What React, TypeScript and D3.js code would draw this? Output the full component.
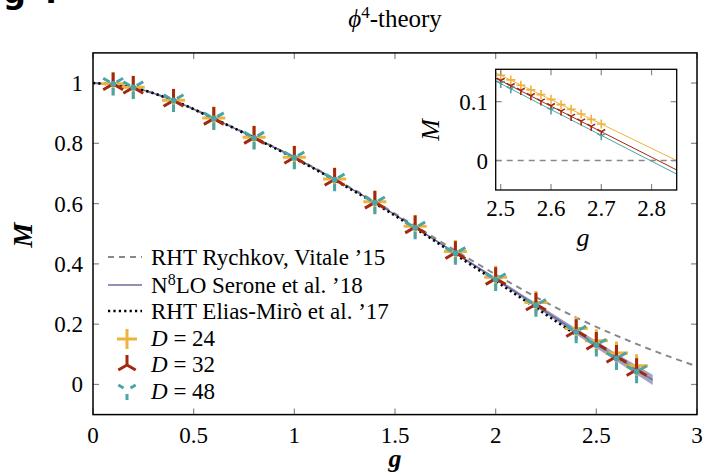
import React from "react";
import * as d3 from "d3";

// ---------- data ----------
const gPts = [0.1, 0.2, 0.4, 0.6, 0.8, 1.0, 1.2, 1.4, 1.6, 1.8, 2.0, 2.2, 2.4, 2.5, 2.6, 2.7];
const mD24 = [0.998, 0.986, 0.943, 0.884, 0.820, 0.754, 0.682, 0.606, 0.525, 0.441, 0.356, 0.272, 0.186, 0.145, 0.104, 0.062];
const mD32 = [0.997, 0.985, 0.942, 0.882, 0.819, 0.753, 0.680, 0.604, 0.522, 0.437, 0.351, 0.266, 0.178, 0.136, 0.093, 0.049];
const mD48 = [0.997, 0.985, 0.942, 0.882, 0.818, 0.752, 0.679, 0.603, 0.520, 0.435, 0.348, 0.263, 0.175, 0.131, 0.086, 0.042];

const gRychkov = [0, 0.2, 0.4, 0.6, 0.8, 1.0, 1.2, 1.4, 1.6, 1.8, 2.0, 2.2, 2.4, 2.6, 2.8, 3.0];
const mRychkov = [1, 0.985, 0.942, 0.883, 0.820, 0.754, 0.682, 0.607, 0.526, 0.444, 0.365, 0.290, 0.222, 0.162, 0.108, 0.060];

const gSerone = [0, 0.2, 0.4, 0.6, 0.8, 1.0, 1.2, 1.4, 1.6, 1.8, 2.0, 2.2, 2.4, 2.6, 2.78];
const mSerone = [1, 0.985, 0.942, 0.882, 0.819, 0.753, 0.680, 0.604, 0.521, 0.436, 0.350, 0.263, 0.176, 0.090, 0.015];
const eSerone = [0, 0, 0, 0, 0, 0, 0.001, 0.001, 0.002, 0.003, 0.005, 0.007, 0.010, 0.013, 0.017];

const gElias = [0, 0.2, 0.4, 0.6, 0.8, 1.0, 1.2, 1.4, 1.6, 1.8, 2.0, 2.2, 2.4];
const mElias = [1, 0.985, 0.942, 0.882, 0.818, 0.751, 0.678, 0.601, 0.518, 0.431, 0.343, 0.254, 0.165];

// inset
const gIn = [2.5, 2.52, 2.54, 2.56, 2.58, 2.6, 2.62, 2.64, 2.66, 2.68, 2.7];
const iD24 = [0.145, 0.137, 0.128, 0.120, 0.112, 0.104, 0.095, 0.087, 0.079, 0.070, 0.062];
const iD32 = [0.136, 0.127, 0.119, 0.110, 0.101, 0.093, 0.084, 0.075, 0.067, 0.058, 0.049];
const gIn48 = [2.5, 2.52, 2.6, 2.7];
const iD48 = [0.131, 0.122, 0.086, 0.042];
const gFit = [2.49, 2.85];
const fit24 = [0.149, 0.0];
const fit32 = [0.140, -0.016];
const fit48 = [0.135, -0.023];

const xTicks = [0, 0.5, 1, 1.5, 2, 2.5, 3];
const xTickLabels = ["0", "0.5", "1", "1.5", "2", "2.5", "3"];
const yTicks = [0, 0.2, 0.4, 0.6, 0.8, 1];
const yTickLabels = ["0", "0.2", "0.4", "0.6", "0.8", "1"];
const ixTicks = [2.5, 2.6, 2.7, 2.8];
const ixTickLabels = ["2.5", "2.6", "2.7", "2.8"];
const iyTicks = [0, 0.1];
const iyTickLabels = ["0", "0.1"];

// ---------- styles ----------
const ORANGE = "#efb33d";
const RED = "#a3280f";
const TEAL = "#4aa4a8";
const BAND = "#a3a3c2";
const SERLINE = "#6e6e9e";
const GRAY = "#888888";
const FONT = "Liberation Serif, DejaVu Serif, Times New Roman, serif";
const FS = 23;

function plusPath(x: number, y: number, r: number) {
  return `M${x - r},${y}L${x + r},${y}M${x},${y - r}L${x},${y + r}`;
}
function triPath(x: number, y: number, r: number, up: boolean, r0 = 0) {
  const c = Math.cos(Math.PI / 6), s = Math.sin(Math.PI / 6);
  const dirs = up
    ? [[0, -1], [-c, s], [c, s]]
    : [[0, 1], [-c, -s], [c, -s]];
  return dirs.map(([dx, dy]) => `M${x + dx * r0},${y + dy * r0}L${x + dx * r},${y + dy * r}`).join("");
}

export default function App() {
  const W = 706, H = 474;
  const x = d3.scaleLinear().domain([0, 3]).range([93, 697]);
  const y = d3.scaleLinear().domain([-0.1, 1.1]).range([414.6, 52.9]);

  const ix = d3.scaleLinear().domain([2.49, 2.85]).range([495.7, 676.7]);
  const iy = d3.scaleLinear().domain([-0.05, 0.155]).range([190, 69.3]);

  const lineOf = (xs: number[], ys: number[], sx: any, sy: any, curve = d3.curveMonotoneX) =>
    d3.line<number>().x((_, i) => sx(xs[i])).y((v) => sy(v)).curve(curve)(ys) as string;

  const band = d3
    .area<number>()
    .x((_, i) => x(gSerone[i]))
    .y0((v, i) => y(v - eSerone[i]))
    .y1((v, i) => y(v + eSerone[i]))
    .curve(d3.curveMonotoneX)(mSerone) as string;

  const R = 11.5;
  const legendX = 108, legendX2 = 142, legendText = 151;
  const legendBase = [265, 293, 319, 346, 372, 399];
  const tf = { fontFamily: FONT };

  return (
    <svg width={W} height={H} style={{ position: "absolute", left: 0, top: 0, background: "#fff" }}>
      <rect x={0} y={0} width={W} height={H} fill="#fff" />
      {/* cropped fragment at top-left */}
      <text x={3} y={3} style={{ fontFamily: "DejaVu Sans, sans-serif" }} fontWeight="bold" fontSize={32}>g</text>
      <text x={45} y={3} style={{ fontFamily: "DejaVu Sans, sans-serif" }} fontWeight="bold" fontSize={32}>.</text>

      <g style={tf}>
        {/* title */}
        <text x={395} y={27} textAnchor="middle" fontSize={25}>
          <tspan fontStyle="italic">ϕ</tspan>
          <tspan dy={-9} fontSize={17}>4</tspan>
          <tspan dy={9}>-theory</tspan>
        </text>

        {/* main ticks */}
        {xTicks.map((t, i) => (
          <g key={"xt" + i}>
            <line x1={x(t)} x2={x(t)} y1={414.6} y2={408.6} stroke={GRAY} strokeWidth={1.2} />
            <line x1={x(t)} x2={x(t)} y1={52.9} y2={58.9} stroke={GRAY} strokeWidth={1.2} />
            <text x={x(t)} y={443} textAnchor="middle" fontSize={FS}>{xTickLabels[i]}</text>
          </g>
        ))}
        {yTicks.map((t, i) => (
          <g key={"yt" + i}>
            <line x1={93} x2={99} y1={y(t)} y2={y(t)} stroke={GRAY} strokeWidth={1.2} />
            <line x1={697} x2={691} y1={y(t)} y2={y(t)} stroke={GRAY} strokeWidth={1.2} />
            <text x={83} y={y(t) + 8} textAnchor="end" fontSize={FS}>{yTickLabels[i]}</text>
          </g>
        ))}

        {/* axis labels */}
        <text x={395} y={467} textAnchor="middle" fontSize={26} fontStyle="italic" fontWeight="bold">g</text>
        <text transform="translate(32,235) rotate(-90)" textAnchor="middle" fontSize={28} fontStyle="italic" fontWeight="bold">M</text>

        {/* curves */}
        <path d={band} fill={BAND} stroke="none" />
        <path d={lineOf(gRychkov, mRychkov, x, y)} fill="none" stroke={GRAY} strokeWidth={2} strokeDasharray="6,5" />
        <path d={lineOf(gSerone, mSerone, x, y)} fill="none" stroke={SERLINE} strokeWidth={1.5} />
        <path d={lineOf(gElias, mElias, x, y)} fill="none" stroke="#000" strokeWidth={2.6} strokeDasharray="2.2,3.2" />

        {/* markers */}
        {gPts.map((g, i) => (
          <path key={"o" + i} d={plusPath(x(g), y(mD24[i]), R)} stroke={ORANGE} strokeWidth={3} fill="none" />
        ))}
        {gPts.map((g, i) => (
          <path key={"r" + i} d={triPath(x(g), y(mD32[i]), R, true)} stroke={RED} strokeWidth={3} fill="none" />
        ))}
        {gPts.map((g, i) => (
          <g key={"t" + i}>
            <path d={triPath(x(g), y(mD48[i]), R, false, 4)} stroke={TEAL} strokeWidth={3} fill="none" />
            <circle cx={x(g)} cy={y(mD48[i])} r={3} fill={TEAL} />
          </g>
        ))}

        {/* main frame */}
        <rect x={93} y={52.9} width={604} height={361.7} fill="none" stroke="#000" strokeWidth={1.5} />

        {/* legend */}
        <g fontSize={FS}>
          <line x1={legendX} x2={legendX2} y1={legendBase[0] - 8} y2={legendBase[0] - 8} stroke={GRAY} strokeWidth={2} strokeDasharray="6,5" />
          <text x={legendText} y={legendBase[0]}>RHT Rychkov, Vitale ’15</text>
          <line x1={legendX} x2={legendX2} y1={legendBase[1] - 8} y2={legendBase[1] - 8} stroke={SERLINE} strokeWidth={1.5} />
          <text x={legendText} y={legendBase[1]}>N<tspan dy={-8} fontSize={16}>8</tspan><tspan dy={8}>LO Serone et al. ’18</tspan></text>
          <line x1={legendX} x2={legendX2} y1={legendBase[2] - 8} y2={legendBase[2] - 8} stroke="#000" strokeWidth={2.6} strokeDasharray="2.2,3.2" />
          <text x={legendText} y={legendBase[2]}>RHT Elias-Mirò et al. ’17</text>

          <path d={plusPath(127, legendBase[3] - 7, 10)} stroke={ORANGE} strokeWidth={3} fill="none" />
          <text x={legendText} y={legendBase[3]}><tspan fontStyle="italic">D</tspan> = 24</text>
          <path d={triPath(127, legendBase[4] - 7, 10, true)} stroke={RED} strokeWidth={3} fill="none" />
          <text x={legendText} y={legendBase[4]}><tspan fontStyle="italic">D</tspan> = 32</text>
          <path d={triPath(127, legendBase[5] - 9, 10, false, 4)} stroke={TEAL} strokeWidth={3} fill="none" />
          <text x={legendText} y={legendBase[5]}><tspan fontStyle="italic">D</tspan> = 48</text>
        </g>

        {/* inset */}
        <rect x={495.7} y={69.3} width={181} height={120.7} fill="#fff" />
        <line x1={ix(2.49)} x2={ix(2.85)} y1={iy(0)} y2={iy(0)} stroke={GRAY} strokeWidth={1.6} strokeDasharray="6,5" />
        <path d={lineOf(gFit, fit24, ix, iy, d3.curveLinear)} stroke={ORANGE} strokeWidth={1} fill="none" />
        <path d={lineOf(gFit, fit32, ix, iy, d3.curveLinear)} stroke={RED} strokeWidth={1} fill="none" />
        <path d={lineOf(gFit, fit48, ix, iy, d3.curveLinear)} stroke={TEAL} strokeWidth={1} fill="none" />
        {gIn.map((g, i) => (
          <path key={"io" + i} d={plusPath(ix(g), iy(iD24[i]), 4.5)} stroke={ORANGE} strokeWidth={1.6} fill="none" />
        ))}
        {gIn.map((g, i) => (
          <path key={"ir" + i} d={triPath(ix(g), iy(iD32[i]), 4.5, false)} stroke={RED} strokeWidth={1.6} fill="none" />
        ))}
        {gIn48.map((g, i) => (
          <path key={"it" + i} d={triPath(ix(g), iy(iD48[i]), 4.5, false)} stroke={TEAL} strokeWidth={1.6} fill="none" />
        ))}
        {ixTicks.map((t, i) => (
          <g key={"ixt" + i}>
            <line x1={ix(t)} x2={ix(t)} y1={190} y2={184} stroke={GRAY} strokeWidth={1.2} />
            <line x1={ix(t)} x2={ix(t)} y1={69.3} y2={75.3} stroke={GRAY} strokeWidth={1.2} />
            <text x={ix(t)} y={216} textAnchor="middle" fontSize={FS}>{ixTickLabels[i]}</text>
          </g>
        ))}
        {iyTicks.map((t, i) => (
          <g key={"iyt" + i}>
            <line x1={495.7} x2={501.7} y1={iy(t)} y2={iy(t)} stroke={GRAY} strokeWidth={1.2} />
            <line x1={676.7} x2={670.7} y1={iy(t)} y2={iy(t)} stroke={GRAY} strokeWidth={1.2} />
            <text x={488} y={iy(t) + 8} textAnchor="end" fontSize={FS}>{iyTickLabels[i]}</text>
          </g>
        ))}
        <rect x={495.7} y={69.3} width={181} height={120.7} fill="none" stroke="#000" strokeWidth={1.3} />
        <text x={583} y={246} textAnchor="middle" fontSize={26} fontStyle="italic">g</text>
        <text transform="translate(439,130) rotate(-90)" textAnchor="middle" fontSize={26} fontStyle="italic">M</text>
      </g>
    </svg>
  );
}
